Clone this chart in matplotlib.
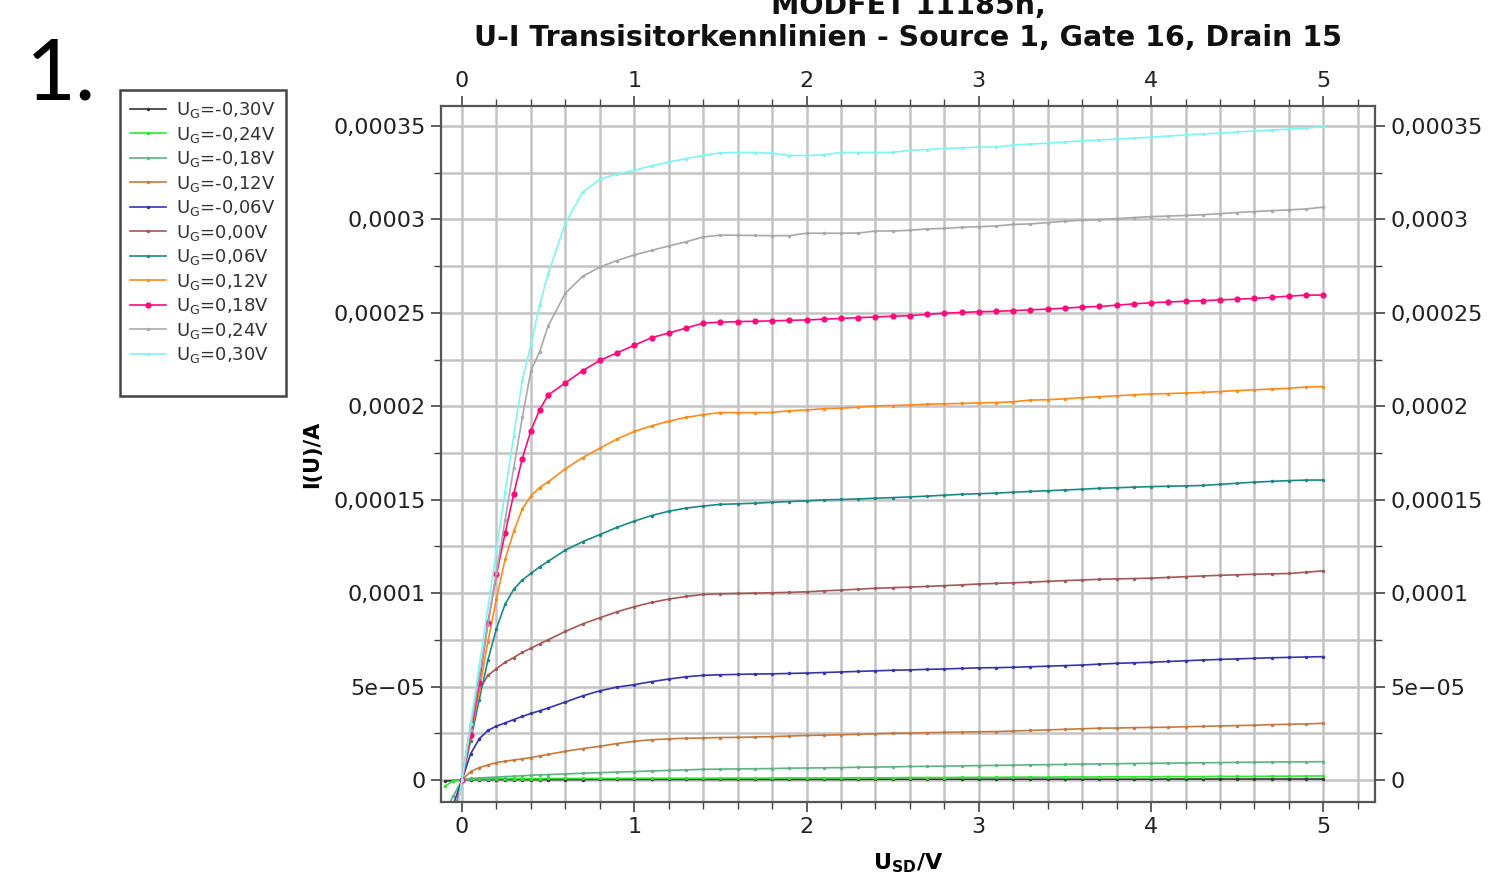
import numpy as np
import matplotlib.pyplot as plt
from matplotlib.patches import Rectangle
from matplotlib.ticker import MultipleLocator, FixedLocator

# U_SD in V (measurement points)
u_sd = [-0.1, -0.05, 0.0, 0.05, 0.1, 0.15, 0.2, 0.25, 0.3, 0.35, 0.4, 0.45, 0.5,
        0.6, 0.7, 0.8, 0.9, 1.0, 1.1, 1.2, 1.3, 1.4, 1.5, 1.6, 1.7, 1.8, 1.9, 2.0,
        2.1, 2.2, 2.3, 2.4, 2.5, 2.6, 2.7, 2.8, 2.9, 3.0, 3.1, 3.2, 3.3, 3.4, 3.5,
        3.6, 3.7, 3.8, 3.9, 4.0, 4.1, 4.2, 4.3, 4.4, 4.5, 4.6, 4.7, 4.8, 4.9, 5.0]

# currents in microampere, one list per gate voltage
i_m030 = [-0.6, -0.3, 0.0, 0.2, 0.2, 0.2, 0.2, 0.2, 0.2, 0.2, 0.2, 0.2, 0.2,
          0.2, 0.2, 0.3, 0.3, 0.3, 0.3, 0.3, 0.3, 0.3, 0.3, 0.3, 0.3, 0.3, 0.3, 0.3,
          0.3, 0.3, 0.3, 0.4, 0.4, 0.4, 0.4, 0.4, 0.4, 0.4, 0.4, 0.4, 0.4, 0.4, 0.4,
          0.4, 0.4, 0.4, 0.4, 0.4, 0.5, 0.5, 0.5, 0.5, 0.5, 0.5, 0.5, 0.5, 0.5, 0.5]
i_m024 = [-3.5, -0.3, 0.0, 0.5, 0.6, 0.6, 0.7, 0.7, 0.7, 0.7, 0.7, 0.7, 0.8,
          0.8, 0.8, 0.8, 0.8, 0.9, 0.9, 0.9, 0.9, 0.9, 1.0, 1.0, 1.0, 1.0, 1.1, 1.1,
          1.1, 1.1, 1.2, 1.2, 1.2, 1.3, 1.3, 1.3, 1.4, 1.4, 1.4, 1.5, 1.5, 1.5, 1.6,
          1.6, 1.6, 1.7, 1.7, 1.7, 1.8, 1.8, 1.8, 1.9, 1.9, 1.9, 2.0, 2.0, 2.1, 2.1]
i_m018 = [-17.0, -8.5, 0.0, 0.8, 1.1, 1.3, 1.5, 1.8, 2.0, 2.2, 2.5, 2.7, 2.9,
          3.2, 3.6, 3.9, 4.2, 4.5, 4.8, 5.1, 5.4, 5.7, 5.8, 5.9, 6.0, 6.1, 6.3, 6.4,
          6.5, 6.6, 6.8, 6.9, 7.0, 7.2, 7.3, 7.4, 7.5, 7.7, 7.8, 7.9, 8.1, 8.2, 8.3,
          8.5, 8.6, 8.7, 8.8, 8.9, 9.0, 9.1, 9.2, 9.3, 9.4, 9.5, 9.6, 9.7, 9.7, 9.8]
i_m012 = [-38.0, -19.0, 0.0, 4.5, 6.6, 8.0, 9.3, 10.0, 10.7, 11.3, 12.0, 12.8, 13.7,
          15.3, 16.8, 18.0, 19.5, 20.7, 21.5, 22.0, 22.3, 22.5, 22.7, 22.8, 23.0, 23.2, 23.5, 23.8,
          24.0, 24.2, 24.4, 24.7, 25.0, 25.1, 25.3, 25.5, 25.6, 25.8, 25.9, 26.2, 26.5, 26.8, 27.1,
          27.4, 27.7, 27.8, 28.0, 28.1, 28.2, 28.5, 28.7, 28.9, 29.1, 29.3, 29.6, 29.8, 30.0, 30.3]
i_m006 = [-25.0, -13.0, 0.0, 14.0, 22.0, 26.5, 28.8, 30.5, 32.3, 34.0, 35.6, 37.0, 38.5,
          41.7, 45.0, 47.7, 49.7, 51.0, 52.6, 54.0, 55.2, 56.0, 56.3, 56.5, 56.7, 56.8, 57.0, 57.2,
          57.5, 57.8, 58.1, 58.4, 58.7, 58.9, 59.2, 59.4, 59.7, 60.0, 60.1, 60.3, 60.6, 60.9, 61.2,
          61.5, 62.0, 62.4, 62.7, 63.0, 63.4, 63.8, 64.2, 64.5, 64.8, 65.1, 65.4, 65.6, 65.8, 66.0]
i_p000 = [-40.0, -26.0, 0.0, 30.0, 48.0, 56.0, 59.5, 63.0, 65.5, 68.3, 70.5, 72.8, 75.0,
          79.5, 83.5, 86.8, 90.0, 92.7, 95.0, 96.8, 98.2, 99.3, 99.6, 99.8, 100.0, 100.2, 100.4, 100.7,
          101.2, 101.6, 102.1, 102.6, 102.9, 103.2, 103.6, 104.0, 104.4, 104.9, 105.2, 105.5, 105.9, 106.3, 106.7,
          107.0, 107.4, 107.6, 107.8, 108.0, 108.4, 108.8, 109.2, 109.5, 109.8, 110.1, 110.3, 110.5, 111.2, 111.9]
i_p006 = [-43.0, -21.0, 0.0, 21.0, 43.0, 64.0, 81.0, 94.0, 102.0, 107.0, 110.5, 114.0, 117.0,
          123.0, 127.5, 131.3, 135.2, 138.5, 141.5, 143.8, 145.5, 146.6, 147.5, 147.8, 148.1, 148.6, 149.0, 149.4,
          149.9, 150.1, 150.4, 150.8, 151.1, 151.5, 151.9, 152.4, 152.9, 153.2, 153.5, 154.0, 154.4, 154.8, 155.2,
          155.6, 156.1, 156.4, 156.7, 157.0, 157.2, 157.4, 157.6, 158.2, 158.8, 159.4, 159.8, 160.2, 160.5, 160.5]
i_p012 = [-47.0, -23.0, 0.0, 23.0, 48.0, 74.0, 97.0, 118.0, 133.0, 145.0, 152.0, 156.5, 159.5,
          166.5, 172.5, 177.5, 182.5, 186.5, 189.5, 192.0, 194.0, 195.5, 196.6, 196.6, 196.6, 196.7, 197.6, 198.0,
          198.7, 199.0, 199.5, 200.2, 200.4, 200.7, 201.1, 201.3, 201.5, 201.8, 202.0, 202.4, 203.3, 203.5, 204.0,
          204.6, 205.1, 205.6, 206.1, 206.6, 206.8, 207.1, 207.4, 207.9, 208.4, 208.8, 209.2, 209.6, 210.3, 210.5]
i_p018 = [-50.0, -25.0, 0.0, 24.0, 52.0, 84.0, 110.0, 132.0, 153.0, 172.0, 187.0, 198.0, 206.0,
          212.5, 219.0, 224.5, 228.6, 232.6, 236.7, 239.2, 241.8, 244.5, 245.0, 245.3, 245.5, 245.7, 246.0, 246.2,
          246.6, 247.0, 247.4, 247.8, 248.2, 248.5, 249.2, 249.8, 250.2, 250.6, 250.8, 251.2, 251.6, 252.0, 252.5,
          253.1, 253.4, 254.1, 254.8, 255.4, 255.8, 256.2, 256.5, 256.9, 257.3, 257.7, 258.3, 258.9, 259.5, 259.5]
i_p024 = [-55.0, -27.0, 0.0, 27.0, 55.0, 83.0, 111.0, 139.0, 167.0, 194.0, 219.0, 229.0, 243.0,
          260.5, 269.5, 274.5, 278.0, 281.0, 283.4, 285.8, 288.0, 290.6, 291.6, 291.5, 291.4, 291.3, 291.3, 292.6,
          292.6, 292.6, 292.7, 293.8, 293.8, 294.2, 294.9, 295.2, 295.8, 296.1, 296.5, 297.3, 297.6, 298.3, 299.0,
          299.6, 299.9, 300.4, 301.0, 301.5, 301.8, 302.1, 302.5, 303.1, 303.7, 304.2, 304.7, 305.1, 305.6, 306.6]
i_p030 = [-60.0, -30.0, 0.0, 30.0, 61.0, 92.0, 123.0, 154.0, 184.0, 214.0, 233.0, 254.0, 271.0,
          298.0, 314.5, 321.5, 324.3, 326.3, 328.7, 330.7, 332.5, 334.3, 335.6, 335.8, 335.8, 335.4, 334.2, 334.2,
          334.6, 335.8, 335.8, 335.8, 335.9, 337.0, 337.4, 338.0, 338.3, 338.7, 338.8, 339.8, 340.3, 340.8, 341.4,
          342.1, 342.5, 343.0, 343.5, 344.0, 344.6, 345.2, 345.7, 346.2, 346.8, 347.3, 347.8, 348.3, 348.8, 349.8]

gate_labels = ['-0,30', '-0,24', '-0,18', '-0,12', '-0,06', '0,00',
               '0,06', '0,12', '0,18', '0,24', '0,30']
series = [i_m030, i_m024, i_m018, i_m012, i_m006, i_p000,
          i_p006, i_p012, i_p018, i_p024, i_p030]
colors = ['#333333', '#2ee82e', '#5fb283', '#c27a42', '#3535a8', '#a35858',
          '#1a8888', '#ff8a1c', '#ff0a7c', '#a8a8a8', '#80f4f4']

yticks = [0, 5e-05, 0.0001, 0.00015, 0.0002, 0.00025, 0.0003, 0.00035]
ytick_labels = ['0', '5e\u221205', '0,0001', '0,00015', '0,0002', '0,00025', '0,0003', '0,00035']
xticks = [0, 1, 2, 3, 4, 5]

W, H = 1491, 883
fig = plt.figure(figsize=(W / 100, H / 100), dpi=100)
ax = fig.add_axes([441 / W, 1 - 802 / H, (1375 - 441) / W, (802 - 106) / H])

x = np.array(u_sd)
lines = []
for lab, vals, c in zip(gate_labels, series, colors):
    ms = 4.5 if lab == '0,18' else 2.5
    ln, = ax.plot(x, np.array(vals) * 1e-6, color=c, lw=1.2, marker='o', ms=ms,
                  markeredgewidth=0, label=r'$\mathregular{U_G}$=' + lab + 'V')
    lines.append(ln)

ax.set_xlim(-0.122, 5.30)
ax.set_ylim(-11.8e-6, 360.7e-6)

ax.xaxis.set_major_locator(FixedLocator(xticks))
ax.xaxis.set_minor_locator(MultipleLocator(0.2))
ax.yaxis.set_major_locator(FixedLocator(yticks))
ax.yaxis.set_minor_locator(MultipleLocator(2.5e-5))
ax.set_xticklabels([str(v) for v in xticks])
ax.set_yticklabels(ytick_labels)

ax.grid(which='both', color='#c4c4c4', lw=1.8, zorder=0)
ax.set_axisbelow(True)

ax.tick_params(which='both', direction='out', top=True, right=True,
               labeltop=True, labelright=True, colors='#444444',
               labelcolor='#222222', labelsize=16)
ax.tick_params(which='major', length=7, width=1.2, pad=4)
ax.tick_params(which='minor', length=5, width=1.0)
for s in ax.spines.values():
    s.set_color('#555555')
    s.set_linewidth(1.6)

ax.set_ylabel('I(U)/A', fontsize=15, fontweight='bold', labelpad=8)
ax.set_xlabel(r'$\mathregular{U_{SD}}$/V', fontsize=16, fontweight='bold', labelpad=10)

fig.text(908 / W, 1 - 6 / H, 'MODFET 11185n,', ha='center', va='center',
         fontsize=20.5, fontweight='bold', color='#111111')
fig.text(908 / W, 1 - 38 / H, 'U-I Transisitorkennlinien - Source 1, Gate 16, Drain 15',
         ha='center', va='center', fontsize=20.5, fontweight='bold', color='#111111')

fig.text(26 / W, 1 - 76 / H, '1.', ha='left', va='center', fontsize=62,
         family='Lato', color='black')

# legend box
fig.patches.append(Rectangle((120 / W, 1 - 396 / H), 166 / W, 306 / H,
                             transform=fig.transFigure, fill=False,
                             edgecolor='#444444', lw=1.8))
fig.legend(handles=lines, loc='upper left', bbox_to_anchor=(130 / W, 1 - 100 / H),
           frameon=False, fontsize=13, handlelength=2.0, handletextpad=0.55,
           labelspacing=0.25, borderaxespad=0, borderpad=0, labelcolor='#333333')

fig.savefig('out.png', dpi=100)
